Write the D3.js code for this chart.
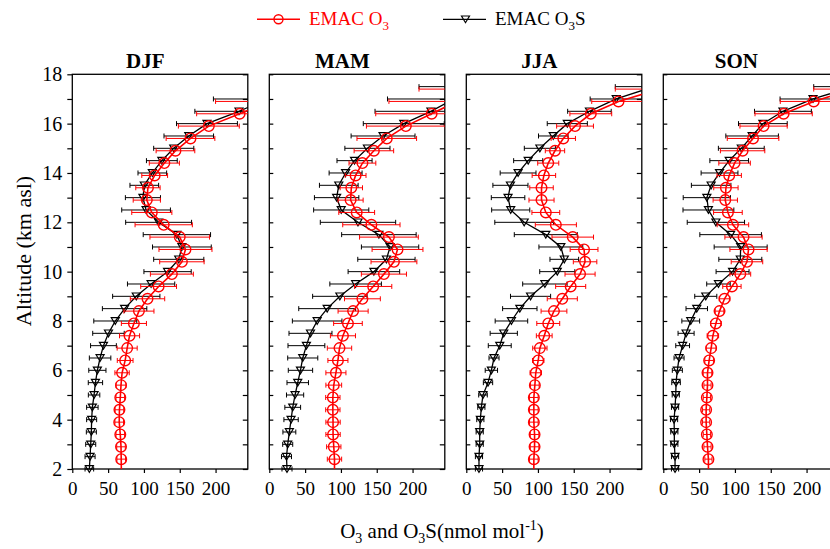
<!DOCTYPE html>
<html>
<head>
<meta charset="utf-8">
<script src="https://cdn.jsdelivr.net/npm/d3@7"></script>
<style>
  body { margin: 0; background: #fff; }
  text { font-family: "Liberation Serif", "Times New Roman", serif; }
</style>
</head>
<body>
<div id="chart"></div>
<script>
// Chart data
//=================================
var seasons = ["DJF", "MAM", "JJA", "SON"];

// altitudes (km) of the O3 points and of the O3S points
var altO3 = [1.9, 2.4, 2.9, 3.4, 3.9, 4.4, 4.9, 5.4, 5.9, 6.4, 6.9, 7.4, 7.9, 8.4, 8.9, 9.4,
  9.9, 10.4, 10.9, 11.4, 11.9, 12.4, 12.9, 13.4, 13.9, 14.4, 14.9, 15.4, 15.9, 16.4, 16.9, 17.4];
var altO3S = [2.0, 2.5, 3.0, 3.5, 4.0, 4.5, 5.0, 5.5, 6.0, 6.5, 7.0, 7.5, 8.0, 8.5, 9.0, 9.5,
  10.0, 10.5, 11.0, 11.5, 12.0, 12.5, 13.0, 13.5, 14.0, 14.5, 15.0, 15.5, 16.0, 16.5, 17.0, 17.5];

// DJF
var djfO3 = [68.5, 68.3, 68, 67, 65.5, 65.8, 67, 68, 69.5, 73.8, 76.6, 79.9, 86, 93, 105, 120.5,
  139, 153, 158, 150, 127.6, 111, 104, 105.6, 115, 128.5, 144, 165, 190.6, 233.6, 275, 335];
var djfO3err = [6, 6, 6, 6, 6, 6, 6, 7, 10, 11, 14, 14, 17.5, 21, 24, 25,
  30, 31, 37, 41.6, 40, 28, 19, 17, 18, 21, 27, 34, 42.5, 60, 75, 80];
var djfO3S = [23.8, 24.8, 25.7, 26.6, 27, 28, 30.4, 32.3, 35, 38.8, 43.5, 50.5, 60, 73, 89.3, 110,
  133, 148.6, 153, 146, 120.5, 103, 98.6, 100.5, 111.7, 125, 141.6, 162.6, 188, 232.7, 272, 330];
var djfO3Serr = [6, 7, 7, 7, 7, 8, 8, 10, 12, 15, 18, 22, 30, 31, 33, 33,
  33, 35, 41, 47, 46, 34, 24.5, 20, 20, 21.5, 28, 34.6, 42.5, 61.6, 75, 80];

// MAM
var mamO3 = [91, 91, 90, 89, 89, 88.7, 88.7, 90, 93, 95.8, 98, 102.8, 109.8, 117, 130, 145,
  160, 174, 179, 167, 142.5, 122, 113.5, 114.5, 120.5, 130, 146, 164, 190.6, 226.6, 262, 312];
var mamO3err = [10, 10, 10, 10, 10, 10, 10, 11, 14, 14, 17, 17.5, 20, 21, 25, 26,
  31.5, 32, 35.5, 41, 40, 25, 17.5, 15.6, 14.5, 18.7, 27.6, 41.6, 55, 78, 95, 103];
var mamO3S = [24.7, 24, 25.7, 28, 30.4, 32.7, 36, 39.7, 43.5, 46.7, 51.8, 57.5, 66.8, 80.8, 98.5, 120.5,
  146, 163.5, 168.6, 153, 123.8, 100.4, 94, 97, 106.5, 119, 137, 158.8, 187.7, 225.6, 258, 310];
var mamO3Serr = [7, 7, 7, 9, 10, 11, 12, 15, 17, 21, 25.7, 30, 34.6, 39.7, 38, 36,
  36, 40, 40, 52, 52.6, 38.5, 31, 27, 23, 24.5, 31.5, 44.6, 56.5, 78, 93, 101];

// JJA
var jjaO3 = [94.3, 94.3, 95.3, 95.3, 94.3, 94.3, 94.3, 95.7, 97, 100.4, 102.7, 108.8, 114.4, 122.4, 134, 145.7,
  158.8, 165.8, 164.4, 148.6, 125, 111, 105, 105, 108.3, 114.4, 123.8, 135.4, 151.8, 173.8, 212.5, 270];
var jjaO3err = [6, 6, 6, 6, 6, 6, 6, 6, 8, 8, 10, 11, 16, 18, 21, 21,
  21, 16.4, 19.4, 29, 28.7, 19.4, 17.5, 16.4, 16.4, 14.7, 13.5, 17, 25.7, 29.2, 37.4, 62];
var jjaO3S = [17.7, 17.7, 18.7, 18.7, 19.6, 21, 23.3, 30.3, 35, 38.7, 46.7, 52.3, 63, 74.7, 89.7, 109.7,
  127, 136.8, 132, 111, 80.8, 62, 58.3, 61.6, 72.3, 86.4, 102.7, 121.4, 141, 171.9, 209.3, 262];
var jjaO3Serr = [5, 5, 5, 5, 5, 5, 6, 6.5, 8.6, 7, 16, 19, 22.7, 24, 28, 31,
  24.5, 20, 30.6, 44, 41, 26.6, 23.4, 24.5, 25, 20.3, 21.7, 20.6, 28, 30.4, 36.4, 54];

// SON
var sonO3 = [63, 63, 61.7, 60.8, 59.8, 59.8, 60.8, 61.7, 61.7, 64, 66.8, 69.2, 73.4, 78.5, 85.5, 95.8,
  107.5, 116.8, 119, 112, 97.2, 90.2, 86.5, 87.4, 92, 99.5, 110.7, 125.3, 140, 168, 210, 265];
var sonO3err = [5, 5, 5, 5, 5, 5, 5, 5, 6, 6, 7, 8, 7.5, 6, 7.5, 12.8,
  14.5, 22, 26, 26, 22, 20, 17, 17, 17, 22, 31, 36, 33, 40, 46.7, 55];
var sonO3S = [16.4, 16.4, 15.4, 15.4, 15, 16.4, 17.4, 17.8, 19.6, 22, 27, 31.8, 38.3, 46.7, 59.3, 77,
  96.7, 107.5, 108, 94, 73.4, 63, 60.8, 66.8, 78.5, 92, 108.9, 124, 139, 167, 209, 265];
var sonO3Serr = [5, 5, 5, 5, 5, 5, 5, 6, 7, 7, 9.6, 11.2, 12.4, 15, 15.4, 16.4,
  23, 30, 37, 43, 40, 35.5, 33, 27.6, 25.7, 27, 32, 36.7, 34, 39.7, 46, 55];

var o3Values = [djfO3, mamO3, jjaO3, sonO3];
var o3Errors = [djfO3err, mamO3err, jjaO3err, sonO3err];
var o3sValues = [djfO3S, mamO3S, jjaO3S, sonO3S];
var o3sErrors = [djfO3Serr, mamO3Serr, jjaO3Serr, sonO3Serr];

var xTicks = [0, 50, 100, 150, 200];
var yTicks = [2, 3, 4, 5, 6, 7, 8, 9, 10, 11, 12, 13, 14, 15, 16, 17, 18];

// Set up the chart
//=================================
var svgWidth = 830;
var svgHeight = 549;

var margin = { top: 74.3, left: 72.3 };
var panelWidth = 175.5;
var panelStep = 197;
var height = 394.7;

var svg = d3.select("#chart")
  .append("svg")
  .attr("width", svgWidth)
  .attr("height", svgHeight)
  .style("display", "block");

svg.append("rect")
  .attr("width", svgWidth)
  .attr("height", svgHeight)
  .attr("fill", "#fff");

// scales shared by all four panels
var xScale = d3.scaleLinear().domain([0, 245]).range([0, panelWidth]);
var yScale = d3.scaleLinear().domain([2, 18]).range([height, 0]);

var line = d3.line()
  .x(d => xScale(d.v))
  .y(d => yScale(d.alt));

// down-pointing open triangle
var triPath = "M-4,-3.3L4,-3.3L0,3.4Z";

function makePoints(alts, vals, errs) {
  return alts.map((a, i) => ({ alt: a, v: vals[i], e: errs[i] }));
}

function drawSeries(g, points, color, kind, clipLine, clipBar) {
  var shown = points.filter(d => d.alt >= 2);

  // error bars
  var bars = g.append("g").attr("clip-path", `url(#${clipBar})`);
  shown.forEach(function(d) {
    var y = yScale(d.alt);
    var x1 = xScale(d.v - d.e), x2 = xScale(d.v + d.e);
    bars.append("line").attr("x1", x1).attr("x2", x2).attr("y1", y).attr("y2", y)
      .attr("stroke", color).attr("stroke-width", 1);
    [x1, x2].forEach(function(x) {
      bars.append("line").attr("x1", x).attr("x2", x).attr("y1", y - 2.5).attr("y2", y + 2.5)
        .attr("stroke", color).attr("stroke-width", 1);
    });
  });

  // profile line
  g.append("path")
    .datum(points)
    .attr("clip-path", `url(#${clipLine})`)
    .attr("d", line)
    .attr("fill", "none")
    .attr("stroke", color)
    .attr("stroke-width", kind === "circle" ? 1.6 : 1.3);

  // markers inside the axis range
  var inside = shown.filter(d => d.v <= 245);
  if (kind === "circle") {
    g.selectAll(null).data(inside).enter()
      .append("circle")
      .attr("cx", d => xScale(d.v))
      .attr("cy", d => yScale(d.alt))
      .attr("r", 5.3)
      .attr("fill", "none")
      .attr("stroke", color)
      .attr("stroke-width", 1.4);
  } else {
    g.selectAll(null).data(inside).enter()
      .append("path")
      .attr("d", triPath)
      .attr("transform", d => `translate(${xScale(d.v)},${yScale(d.alt)})`)
      .attr("fill", "none")
      .attr("stroke", color)
      .attr("stroke-width", 1.2);
  }
}

var defs = svg.append("defs");

seasons.forEach(function(season, i) {
  var g = svg.append("g")
    .attr("transform", `translate(${margin.left + i * panelStep}, ${margin.top})`);

  defs.append("clipPath").attr("id", "clipLine" + i)
    .append("rect").attr("x", 0).attr("y", 0).attr("width", panelWidth).attr("height", height);
  defs.append("clipPath").attr("id", "clipBar" + i)
    .append("rect").attr("x", 0).attr("y", -10).attr("width", panelWidth).attr("height", height + 20);

  // left ticks: outward with labels on the first panel, inward on the others
  var leftAxis = i === 0
    ? d3.axisLeft(yScale).tickValues(yTicks).tickSize(5).tickPadding(5)
        .tickFormat(d => d % 2 === 0 ? d : "")
    : d3.axisRight(yScale).tickValues(yTicks).tickSize(4).tickFormat("");
  var la = g.append("g").call(leftAxis);

  var rightAxis = d3.axisLeft(yScale).tickValues(yTicks).tickSize(5).tickFormat("");
  var ra = g.append("g").attr("transform", `translate(${panelWidth},0)`).call(rightAxis);

  var bottomAxis = d3.axisBottom(xScale).tickValues(xTicks).tickSize(4).tickPadding(9);
  var ba = g.append("g").attr("transform", `translate(0,${height})`).call(bottomAxis);

  [la, ra, ba].forEach(function(a) {
    a.select(".domain").remove();
    a.selectAll("line").attr("stroke", "#000").attr("stroke-width", 1.2);
    a.selectAll("text").attr("fill", "#000")
      .style("font-family", '"Liberation Serif", serif');
  });
  la.selectAll("text").style("font-size", "20px");
  ba.selectAll("text").style("font-size", "19px");

  // frame
  g.append("rect")
    .attr("width", panelWidth)
    .attr("height", height)
    .attr("fill", "none")
    .attr("stroke", "#000")
    .attr("stroke-width", 1.3);

  // season title
  g.append("text")
    .attr("x", 73)
    .attr("y", -6)
    .attr("text-anchor", "middle")
    .style("font-size", "21px")
    .style("font-weight", "bold")
    .text(season);

  drawSeries(g, makePoints(altO3S, o3sValues[i], o3sErrors[i]), "#000", "triangle", "clipLine" + i, "clipBar" + i);
  drawSeries(g, makePoints(altO3, o3Values[i], o3Errors[i]), "#ff0000", "circle", "clipLine" + i, "clipBar" + i);
});

// axis titles
svg.append("text")
  .attr("transform", "translate(31,251) rotate(-90)")
  .attr("text-anchor", "middle")
  .style("font-size", "22px")
  .text("Altitude (km asl)");

var xTitle = svg.append("text")
  .attr("x", 442)
  .attr("y", 538)
  .attr("text-anchor", "middle")
  .style("font-size", "21px");
xTitle.append("tspan").text("O");
xTitle.append("tspan").attr("dy", 5).style("font-size", "14px").text("3");
xTitle.append("tspan").attr("dy", -5).text(" and O");
xTitle.append("tspan").attr("dy", 5).style("font-size", "14px").text("3");
xTitle.append("tspan").attr("dy", -5).text("S(nmol mol");
xTitle.append("tspan").attr("dy", -8).style("font-size", "14px").text("-1");
xTitle.append("tspan").attr("dy", 8).text(")");

// legend
var legend = svg.append("g");
legend.append("line").attr("x1", 257).attr("x2", 300).attr("y1", 19.3).attr("y2", 19.3)
  .attr("stroke", "#ff0000").attr("stroke-width", 1.6);
legend.append("circle").attr("cx", 278.5).attr("cy", 19.3).attr("r", 4.5)
  .attr("fill", "none").attr("stroke", "#ff0000").attr("stroke-width", 1.4);
var lt1 = legend.append("text").attr("x", 309).attr("y", 25).attr("fill", "#ff0000")
  .style("font-size", "19px");
lt1.append("tspan").text("EMAC O");
lt1.append("tspan").attr("dy", 5).style("font-size", "13px").text("3");

legend.append("line").attr("x1", 443).attr("x2", 486).attr("y1", 19.3).attr("y2", 19.3)
  .attr("stroke", "#000").attr("stroke-width", 1.3);
legend.append("path").attr("d", triPath).attr("transform", "translate(465.5,19.3)")
  .attr("fill", "none").attr("stroke", "#000").attr("stroke-width", 1.2);
var lt2 = legend.append("text").attr("x", 495).attr("y", 25).attr("fill", "#000")
  .style("font-size", "19px");
lt2.append("tspan").text("EMAC O");
lt2.append("tspan").attr("dy", 5).style("font-size", "13px").text("3");
lt2.append("tspan").attr("dy", -5).text("S");
</script>
</body>
</html>
